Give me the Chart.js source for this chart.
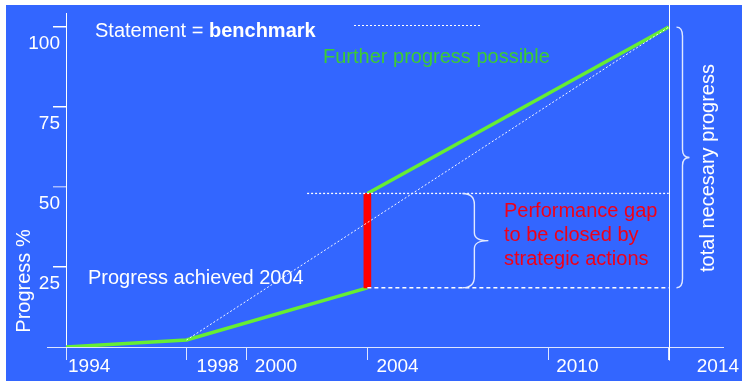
<!DOCTYPE html>
<html>
<head>
<meta charset="utf-8">
<script src="https://cdn.jsdelivr.net/npm/chart.js@4/dist/chart.umd.min.js"></script>
<style>
  html, body { margin: 0; padding: 0; background: #ffffff; width: 742px; height: 381px; overflow: hidden; }
  #wrap { position: absolute; left: 6px; top: 5px; width: 736px; height: 376px; background: #3366ff; }
</style>
</head>
<body>
<div id="wrap"><canvas id="progressChart"></canvas></div>
<script>
// Progress actually achieved up to 2004
const achievedYears = [1994, 1998, 2004];
const achievedValues = [0, 2.2, 18.5];

// Further progress still possible from the top of the gap to the horizon
const possibleYears = [2004, 2014];
const possibleValues = [48, 100];

// Benchmark statement: straight path from 1998 to the 2014 target
const benchmarkYears = [1998, 2014];
const benchmarkValues = [2.2, 100];

// Performance gap in 2004 (from achieved level to benchmark level)
const gapYear = 2004;
const gapRange = [18.5, 48];

// Reference lines across the remaining period
const gapTopYears = [2002, 2014];
const achievedLevelYears = [2004, 2014];

// Axes
const xTickYears = [1994, 1998, 2000, 2004, 2010, 2014];
const xTickLabels = ['1994', '1998', '2000', '2004', '2010', '2014'];
const yTickValues = [25, 50, 75, 100];
const horizonYear = 2014;

const FONT = '"Liberation Sans", Arial, Helvetica, sans-serif';
const WHITE = '#ffffff';
const AXIS_LIGHT = '#dfe6ff';
const GREEN = '#66ee33';
const TEXT_GREEN = '#3ccc33';
const RED = '#ff0000';
const TEXT_RED = '#f00018';

// horizontal shift of each year label to the right of its tick mark
const xLabelShift = [2, 10, 8, 9, 8, 28];

const pts = (xs, ys) => xs.map((v, i) => ({ x: v, y: ys[i] }));

function brace(ctx, x0, xs, xt, yTop, yBot, r, rt) {
  const ym = (yTop + yBot) / 2;
  ctx.beginPath();
  ctx.moveTo(x0, yTop);
  ctx.quadraticCurveTo(xs, yTop, xs, yTop + r);
  ctx.lineTo(xs, ym - rt);
  ctx.quadraticCurveTo(xs, ym, xt, ym);
  ctx.quadraticCurveTo(xs, ym, xs, ym + rt);
  ctx.lineTo(xs, yBot - r);
  ctx.quadraticCurveTo(xs, yBot, x0, yBot);
  ctx.stroke();
}

const overlay = {
  id: 'overlay',
  afterDatasetsDraw(chart) {
    const { ctx, scales: { x, y } } = chart;
    ctx.save();

    const y0 = Math.round(y.getPixelForValue(0)) + 0.5;

    // x axis continues a little to the left of the y axis
    ctx.strokeStyle = AXIS_LIGHT;
    ctx.lineWidth = 1;
    ctx.beginPath();
    ctx.moveTo(x.left - 19, y0);
    ctx.lineTo(x.left, y0);
    ctx.stroke();

    // horizon line at 2014
    const xh = Math.round(x.getPixelForValue(horizonYear)) + 0.5;
    ctx.strokeStyle = WHITE;
    ctx.beginPath();
    ctx.moveTo(xh, 0);
    ctx.lineTo(xh, y0 + 13);
    ctx.stroke();

    // braces
    ctx.strokeStyle = 'rgba(235,240,255,0.95)';
    ctx.lineWidth = 1.4;
    brace(ctx, xh + 7, xh + 13, xh + 20,
      y.getPixelForValue(possibleValues[1]), y.getPixelForValue(gapRange[0]), 9, 8);
    const xg = x.getPixelForValue(gapYear);
    brace(ctx, xg + 95, xg + 107, xg + 121,
      y.getPixelForValue(gapRange[1]), y.getPixelForValue(gapRange[0]), 11, 8);

    // x tick labels
    ctx.fillStyle = WHITE;
    ctx.font = `19px ${FONT}`;
    ctx.textAlign = 'left';
    ctx.textBaseline = 'alphabetic';
    xTickYears.forEach((yr, i) => {
      ctx.fillText(xTickLabels[i], x.getPixelForValue(yr) + xLabelShift[i], y0 + 24);
    });

    // statement with benchmark sample line
    ctx.font = `20px ${FONT}`;
    const s1 = 'Statement = ';
    ctx.fillText(s1, 89, 31.5);
    const w1 = ctx.measureText(s1).width;
    ctx.font = `bold 20px ${FONT}`;
    ctx.fillText('benchmark', 89 + w1, 31.5);
    ctx.strokeStyle = WHITE;
    ctx.lineWidth = 1;
    ctx.setLineDash([2, 2]);
    ctx.beginPath();
    ctx.moveTo(348, 20.5);
    ctx.lineTo(475, 20.5);
    ctx.stroke();
    ctx.setLineDash([]);

    ctx.font = `20px ${FONT}`;
    ctx.fillStyle = TEXT_GREEN;
    ctx.fillText('Further progress possible', 317, 58);

    ctx.fillStyle = WHITE;
    ctx.fillText('Progress achieved 2004', 82, 279);

    ctx.fillStyle = TEXT_RED;
    ['Performance gap', 'to be closed by', 'strategic actions'].forEach((t, i) => {
      ctx.fillText(t, 498, 212 + i * 24);
    });

    // rotated labels
    ctx.fillStyle = WHITE;
    ctx.textAlign = 'center';
    ctx.textBaseline = 'middle';
    ctx.save();
    ctx.translate(702, 163);
    ctx.rotate(-Math.PI / 2);
    ctx.fillText('total necesary progress', 0, 0);
    ctx.restore();

    ctx.save();
    ctx.translate(18, 276);
    ctx.rotate(-Math.PI / 2);
    ctx.fillText('Progress %', 0, 0);
    ctx.restore();

    ctx.restore();
  }
};

new Chart(document.getElementById('progressChart'), {
  type: 'line',
  data: {
    datasets: [
      {
        label: 'benchmark',
        data: pts(benchmarkYears, benchmarkValues),
        borderColor: 'rgba(255,255,255,0.95)',
        borderWidth: 1,
        borderDash: [2, 2],
        pointRadius: 0
      },
      {
        label: 'gap top',
        data: pts(gapTopYears, [gapRange[1], gapRange[1]]),
        borderColor: WHITE,
        borderWidth: 1.3,
        borderDash: [2, 2],
        pointRadius: 0
      },
      {
        label: 'achieved level',
        data: pts(achievedLevelYears, [gapRange[0], gapRange[0]]),
        borderColor: WHITE,
        borderWidth: 1.5,
        borderDash: [4, 3],
        pointRadius: 0
      },
      {
        type: 'bar',
        label: 'performance gap',
        data: [{ x: gapYear, y: gapRange }],
        backgroundColor: RED,
        borderWidth: 0,
        barThickness: 7,
        grouped: false
      },
      {
        label: 'achieved',
        data: pts(achievedYears, achievedValues),
        borderColor: GREEN,
        borderWidth: 3.5,
        pointRadius: 0
      },
      {
        label: 'possible',
        data: pts(possibleYears, possibleValues),
        borderColor: GREEN,
        borderWidth: 3.5,
        pointRadius: 0
      }
    ]
  },
  options: {
    responsive: true,
    maintainAspectRatio: false,
    animation: false,
    events: [],
    layout: { padding: { top: 8, right: 19, left: 0, bottom: 0 } },
    plugins: { legend: { display: false }, tooltip: { enabled: false } },
    elements: { line: { tension: 0 } },
    scales: {
      x: {
        type: 'linear',
        min: 1994,
        max: 2015.8,
        offset: false,
        afterBuildTicks: (s) => { s.ticks = xTickYears.map(v => ({ value: v })); },
        afterFit: (s) => { s.height = 34; },
        ticks: { autoSkip: false, maxRotation: 0, callback: () => '', font: { family: FONT, size: 19 } },
        grid: { offset: false, drawOnChartArea: false, drawTicks: true, tickLength: 13, color: AXIS_LIGHT, lineWidth: 1 },
        border: { display: true, color: AXIS_LIGHT, width: 1 }
      },
      y: {
        type: 'linear',
        min: 0,
        max: 104.4,
        afterBuildTicks: (s) => { s.ticks = yTickValues.map(v => ({ value: v })); },
        afterFit: (s) => { s.width = 60; },
        ticks: {
          autoSkip: false,
          color: WHITE,
          font: { family: FONT, size: 19 },
          padding: -7,
          labelOffset: 17
        },
        grid: {
          drawOnChartArea: false,
          drawTicks: true,
          tickLength: 13,
          lineWidth: 1.5,
          color: (ctx) => (ctx.tick && ctx.tick.value === 50 ? '#a9bcff' : WHITE)
        },
        border: { display: true, color: WHITE, width: 1 }
      }
    }
  },
  plugins: [overlay]
});
</script>
</body>
</html>
